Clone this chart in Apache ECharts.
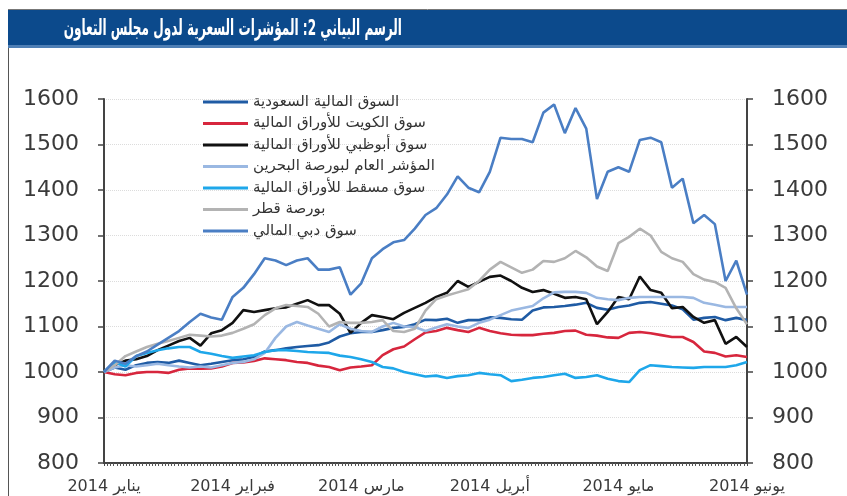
<!DOCTYPE html>
<html>
<head>
<meta charset="utf-8">
<script src="https://cdn.jsdelivr.net/npm/echarts@6/dist/echarts.min.js"></script>
<style>
  html, body { margin: 0; padding: 0; background: #fff; }
  #chart { width: 847px; height: 496px; }
</style>
</head>
<body>
<div id="chart"></div>
<script>
// month labels (one every 12 points on the x axis)
const monthLabels = ['2014 يناير', '2014 فبراير', '2014 مارس', '2014 أبريل', '2014 مايو', '2014 يونيو']
const yTicks = [800, 900, 1000, 1100, 1200, 1300, 1400, 1500, 1600]

const seriesNames = [
  'السوق المالية السعودية',
  'سوق الكويت للأوراق المالية',
  'سوق أبوظبي للأوراق المالية',
  'المؤشر العام لبورصة البحرين',
  'سوق مسقط للأوراق المالية',
  'بورصة قطر',
  'سوق دبي المالي'
]

const saudi = [1000, 1010, 1005, 1015, 1020, 1022, 1020, 1025, 1020, 1015, 1018, 1022, 1026, 1028, 1033, 1045,
  1048, 1052, 1055, 1057, 1059, 1065, 1078, 1085, 1088, 1088, 1092, 1097, 1099, 1105, 1115, 1114, 1117, 1108,
  1114, 1114, 1120, 1119, 1116, 1115, 1135, 1142, 1143, 1145, 1148, 1152, 1141, 1137, 1143, 1146, 1152, 1154,
  1150, 1146, 1138, 1115, 1119, 1121, 1114, 1119, 1114]

const kuwait = [1000, 995, 993, 998, 1000, 1000, 998, 1005, 1008, 1007, 1008, 1012, 1020, 1021, 1024, 1030,
  1028, 1026, 1022, 1020, 1014, 1011, 1004, 1010, 1012, 1015, 1037, 1050, 1056, 1072, 1087, 1090, 1097, 1092,
  1088, 1097, 1090, 1085, 1082, 1081, 1081, 1084, 1086, 1090, 1091, 1082, 1080, 1076, 1075, 1086, 1088, 1085,
  1081, 1077, 1077, 1066, 1045, 1042, 1034, 1037, 1033]

const abuDhabi = [1000, 1015, 1025, 1028, 1035, 1048, 1058, 1068, 1075, 1058, 1085, 1092, 1108, 1136, 1132, 1136,
  1140, 1142, 1150, 1158, 1147, 1147, 1128, 1086, 1108, 1125, 1121, 1116, 1130, 1141, 1152, 1165, 1174, 1200,
  1187, 1198, 1209, 1212, 1200, 1185, 1176, 1180, 1172, 1163, 1165, 1160, 1105, 1132, 1165, 1160, 1210, 1180,
  1174, 1140, 1143, 1121, 1108, 1114, 1062, 1077, 1055]

const bahrain = [1000, 1010, 1015, 1012, 1015, 1018, 1015, 1012, 1010, 1012, 1010, 1015, 1020, 1022, 1028, 1042,
  1075, 1100, 1110, 1102, 1095, 1088, 1105, 1095, 1090, 1088, 1100, 1108, 1100, 1099, 1090, 1098, 1105, 1100,
  1097, 1108, 1115, 1125, 1135, 1140, 1145, 1162, 1175, 1176, 1176, 1174, 1163, 1160, 1158, 1163, 1165, 1165,
  1165, 1165, 1165, 1163, 1152, 1148, 1143, 1143, 1143]

const muscat = [1000, 1022, 1012, 1035, 1042, 1048, 1052, 1055, 1055, 1044, 1040, 1035, 1031, 1034, 1037, 1044,
  1048, 1048, 1046, 1044, 1043, 1042, 1036, 1033, 1028, 1022, 1011, 1008, 1000, 995, 990, 992, 987, 991,
  993, 998, 995, 993, 980, 983, 987, 989, 993, 996, 987, 989, 993, 985, 980, 978, 1004, 1015,
  1013, 1011, 1010, 1009, 1011, 1011, 1011, 1015, 1022]

const qatar = [1000, 1015, 1035, 1045, 1055, 1062, 1068, 1075, 1082, 1080, 1078, 1080, 1086, 1095, 1105, 1125,
  1140, 1147, 1145, 1143, 1128, 1100, 1110, 1108, 1108, 1110, 1114, 1090, 1088, 1095, 1135, 1160, 1168, 1175,
  1182, 1200, 1225, 1242, 1230, 1218, 1225, 1244, 1242, 1250, 1266, 1252, 1232, 1222, 1283, 1297, 1315, 1300,
  1264, 1250, 1242, 1215, 1203, 1198, 1185, 1140, 1105]

const dubai = [1000, 1025, 1018, 1035, 1045, 1060, 1075, 1090, 1110, 1128, 1120, 1115, 1165, 1185, 1215, 1250,
  1245, 1235, 1245, 1250, 1225, 1225, 1230, 1170, 1195, 1250, 1270, 1285, 1290, 1315, 1345, 1360, 1390, 1430,
  1405, 1395, 1440, 1515, 1512, 1512, 1505, 1570, 1588, 1525, 1580, 1535, 1380, 1440, 1450, 1440, 1510, 1515,
  1505, 1405, 1425, 1327, 1345, 1325, 1200, 1245, 1170]

const allValues = [saudi, kuwait, abuDhabi, bahrain, muscat, qatar, dubai]
const colors = ['#1f5ba4', '#d7263d', '#111111', '#9ab8e2', '#1ea7ea', '#b3b3b3', '#4a7ec4']

const chart = echarts.init(document.getElementById('chart'))

const yAxisBase = {
  type: 'value',
  min: 800,
  max: 1600,
  interval: 100,
  axisLine: { show: true, lineStyle: { color: '#444', width: 2 } },
  axisTick: { show: true, length: 6, lineStyle: { color: '#444', width: 1.5 } },
  axisLabel: {
    fontFamily: 'DejaVu Sans',
    fontSize: 22,
    color: '#3a3a3a',
    margin: 25,
    formatter: (v) => (yTicks.includes(v) ? String(v) : '')
  }
}

const option = {
  animation: false,
  backgroundColor: '#fff',
  graphic: [
    { type: 'rect', shape: { x: 8, y: 10, width: 839, height: 38 }, style: { fill: '#0c4a8c' } },
    { type: 'rect', shape: { x: 8, y: 45, width: 839, height: 3 }, style: { fill: '#4f7fb5' } },
    { type: 'line', shape: { x1: 8.5, y1: 48, x2: 8.5, y2: 496 }, style: { stroke: '#555', lineWidth: 1 } },
    { type: 'line', shape: { x1: 8, y1: 9.5, x2: 847, y2: 9.5 }, style: { stroke: '#777', lineWidth: 1 } },
    {
      // DejaVu Arabic is much wider than the original face, so squeeze it
      type: 'text',
      x: 402,
      y: 29,
      scaleX: 0.55,
      style: {
        x: 0, y: 0,
        text: 'الرسم البياني 2: المؤشرات السعرية لدول مجلس التعاون',
        fill: '#fff',
        font: 'bold 22px "DejaVu Sans"',
        textAlign: 'right',
        textVerticalAlign: 'middle'
      }
    }
  ],
  grid: { left: 104, right: 100, top: 99, bottom: 33 },
  legend: {
    orient: 'vertical',
    left: 198,
    top: 89,
    icon: 'rect',
    itemWidth: 45,
    itemHeight: 3,
    itemGap: 5.5,
    textStyle: { fontFamily: 'DejaVu Sans', fontSize: 15, color: '#333', lineHeight: 16 },
    data: seriesNames
  },
  xAxis: {
    type: 'value',
    min: 0,
    max: 60,
    interval: 12,
    axisLine: { show: true, onZero: false, lineStyle: { color: '#444', width: 2 } },
    axisTick: { show: true, length: 3, lineStyle: { color: '#444' } },
    minorTick: { show: true, splitNumber: 40, length: 3, lineStyle: { color: '#555' } },
    splitLine: { show: false },
    axisLabel: {
      fontFamily: 'DejaVu Sans',
      fontSize: 16,
      color: '#3a3a3a',
      margin: 16,
      formatter: (v) => monthLabels[v / 12] || ''
    }
  },
  yAxis: [
    Object.assign({}, yAxisBase, {
      position: 'left',
      splitLine: { show: true, lineStyle: { color: '#dcdcdc', type: 'dotted' } }
    }),
    Object.assign({}, yAxisBase, {
      position: 'right',
      splitLine: { show: false }
    })
  ],
  series: allValues.map((vals, k) => ({
    name: seriesNames[k],
    type: 'line',
    yAxisIndex: 0,
    symbol: 'none',
    color: colors[k],
    lineStyle: { width: 2.6, color: colors[k] },
    data: vals.map((v, i) => [i, v])
  }))
}

chart.setOption(option)
</script>
</body>
</html>
